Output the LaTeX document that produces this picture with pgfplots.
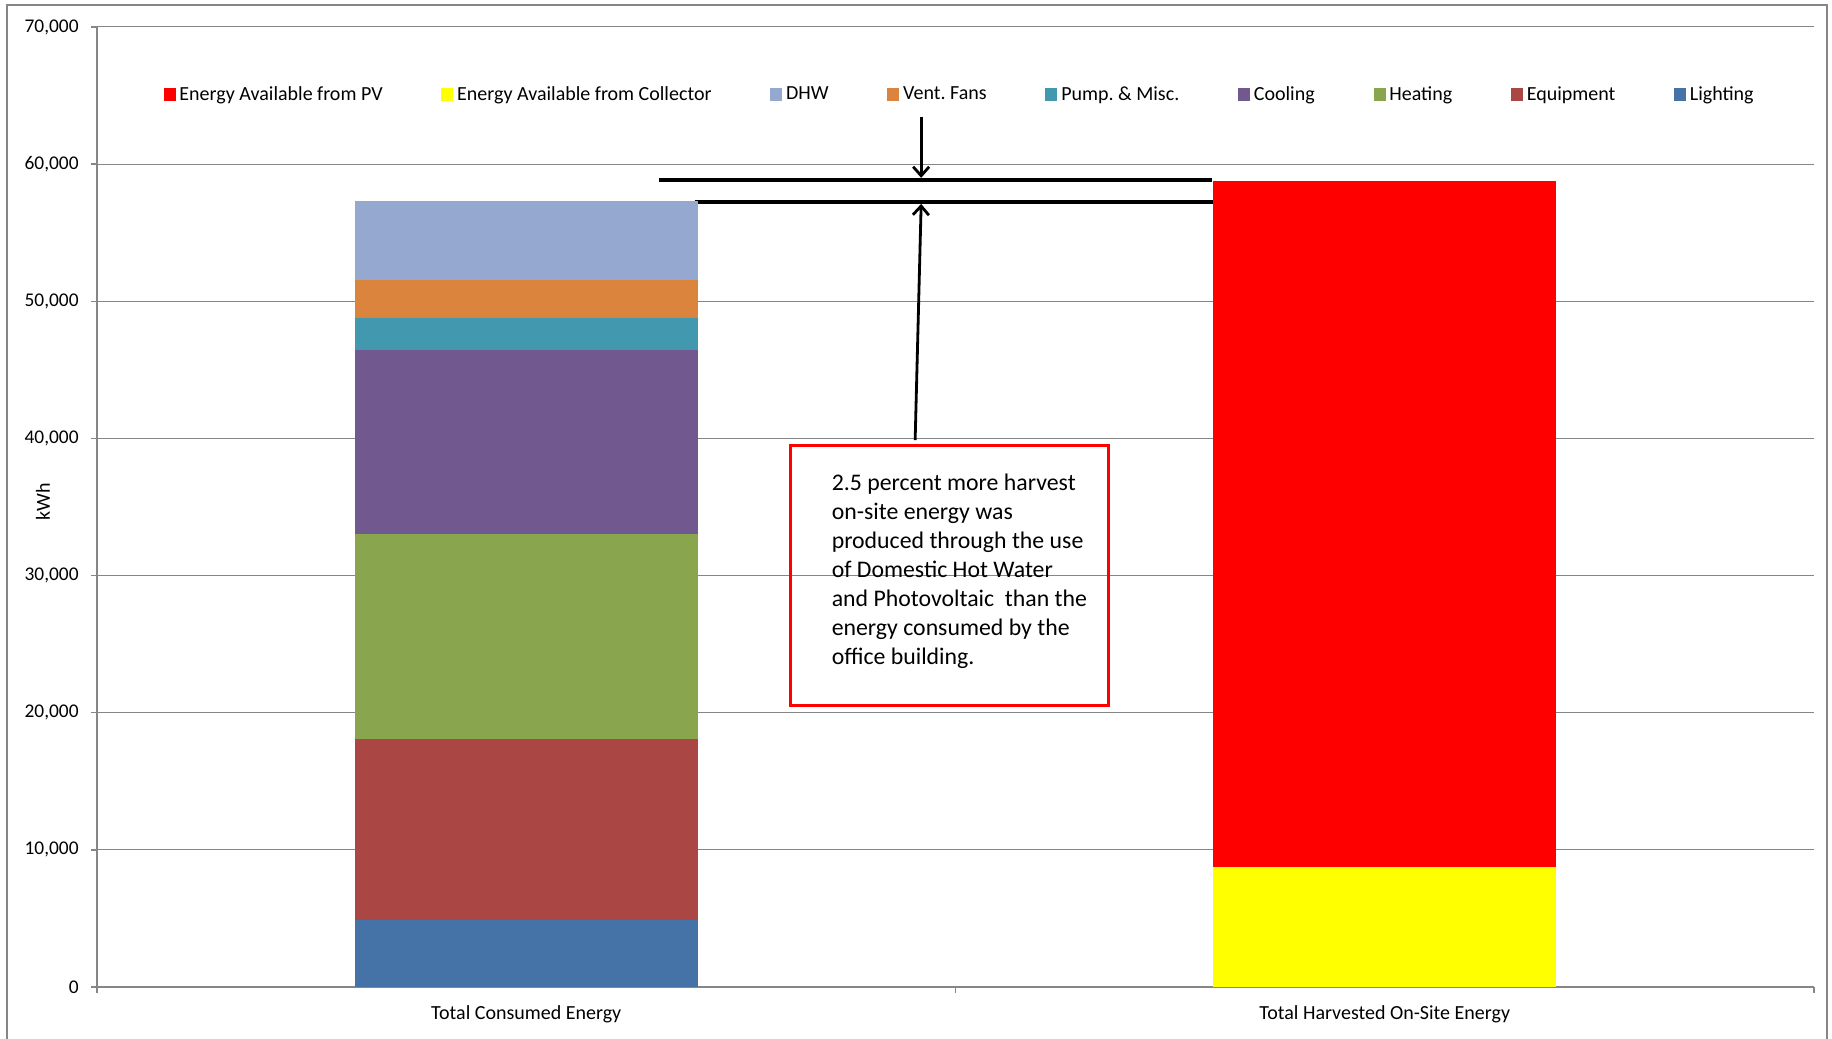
\documentclass[border=0pt]{standalone}
\usepackage{pgfplots}
\pgfplotsset{compat=1.18}
\usepackage{fontspec}
\setmainfont{Carlito}
\usetikzlibrary{arrows.meta}

\definecolor{cPV}{HTML}{FF0000}
\definecolor{cColl}{HTML}{FFFF00}
\definecolor{cDHW}{HTML}{95A9D0}
\definecolor{cVent}{HTML}{DB843D}
\definecolor{cPump}{HTML}{4198AF}
\definecolor{cCool}{HTML}{71588F}
\definecolor{cHeat}{HTML}{89A54E}
\definecolor{cEquip}{HTML}{AA4643}
\definecolor{cLight}{HTML}{4572A7}
\definecolor{gridgray}{HTML}{868686}

\pgfplotsset{sq/.style={legend image code/.code={\fill[#1] (0bp,-2.9bp) rectangle (5.5bp,2.9bp);}}}
\frenchspacing

\begin{document}
\frenchspacing
\begin{tikzpicture}
\useasboundingbox (0,0) rectangle (916bp,519.5bp);
\fill[white] (0,0) rectangle (916bp,519.5bp);
\draw[gridgray, line width=1bp] (3.5bp,0) -- (3.5bp,517bp) -- (913.5bp,517bp) -- (913.5bp,0);
\begin{axis}[
  at={(48.5bp,26bp)}, anchor=south west,
  scale only axis, width=858.5bp, height=480bp,
  xmin=-0.5, xmax=1.5, ymin=0, ymax=70000,
  ybar stacked, bar width=0.4,
  axis x line*=bottom, axis y line*=left,
  axis line style={gridgray, line width=0.7bp},
  ytick={0,10000,20000,30000,40000,50000,60000,70000},
  scaled y ticks=false,
  /pgf/number format/assume math mode=true,
  /pgf/number format/1000 sep={,},
  ymajorgrids, grid style={gridgray, line width=0.5bp},
  tick style={gridgray, line width=0.7bp},
  major tick length=3bp, tick align=outside,
  xtick={-0.5,0.5,1.5}, xticklabels={},
  extra x ticks={0,1},
  extra x tick labels={Total Consumed Energy, Total Harvested On-Site Energy},
  extra x tick style={major tick length=0pt, tick style={draw=none}, grid=none},
  xticklabel style={font=\fontsize{10bp}{12bp}\selectfont, text=black, anchor=north, inner sep=0pt, yshift=-9.3bp},
  yticklabel style={font=\fontsize{9.7bp}{11bp}\selectfont, text=black, anchor=east, inner sep=0pt, xshift=-6bp},
  ylabel={kWh},
  ylabel style={font=\fontsize{10bp}{12bp}\selectfont, at={(axis description cs:-0.0315,0.505)}, anchor=center},
  legend columns=-1,
  legend style={draw=none, fill=none, at={(0.503,0.9295)}, anchor=center,
    font=\fontsize{10bp}{12bp}\selectfont,
    /tikz/every even column/.append style={column sep=27.4bp}},
]
\addplot[forget plot, fill=cLight, draw=none] coordinates {(0,4900) (1,0)};
\addplot[forget plot, fill=cEquip, draw=none] coordinates {(0,13150) (1,0)};
\addplot[forget plot, fill=cHeat, draw=none] coordinates {(0,14950) (1,0)};
\addplot[forget plot, fill=cCool, draw=none] coordinates {(0,13470) (1,0)};
\addplot[forget plot, fill=cPump, draw=none] coordinates {(0,2330) (1,0)};
\addplot[forget plot, fill=cVent, draw=none] coordinates {(0,2730) (1,0)};
\addplot[forget plot, fill=cDHW, draw=none] coordinates {(0,5780) (1,0)};
\addplot[forget plot, fill=cColl, draw=none] coordinates {(0,0) (1,8730)};
\addplot[forget plot, fill=cPV, draw=none] coordinates {(0,0) (1,50050)};

\addlegendimage{sq=cPV}\addlegendentry{Energy Available from PV}
\addlegendimage{sq=cColl}\addlegendentry{Energy Available from Collector}
\addlegendimage{sq=cDHW}\addlegendentry{DHW}
\addlegendimage{sq=cVent}\addlegendentry{Vent.\ Fans}
\addlegendimage{sq=cPump}\addlegendentry{Pump.\ \& Misc.}
\addlegendimage{sq=cCool}\addlegendentry{Cooling}
\addlegendimage{sq=cHeat}\addlegendentry{Heating}
\addlegendimage{sq=cEquip}\addlegendentry{Equipment}
\addlegendimage{sq=cLight}\addlegendentry{Lighting}

\draw[line width=1.7bp] (axis cs:0.155,58850) -- (axis cs:0.799,58850);
\draw[line width=1.7bp] (axis cs:0.196,57250) -- (axis cs:0.801,57250);
\draw[line width=1.4bp, -{Straight Barb[length=4.5bp,width=8bp]}] (axis cs:0.460,63440) -- (axis cs:0.460,59000);
\draw[line width=1.4bp, -{Straight Barb[length=4.5bp,width=8bp]}] (axis cs:0.453,39880) -- (axis cs:0.460,57100);
\draw[cPV, line width=1.5bp] (axis cs:0.3077,39520) rectangle (axis cs:0.6779,20490);
\node[anchor=north west, align=left, inner sep=0pt, text=black, font=\fontsize{11.9bp}{14.5bp}\selectfont] at (axis cs:0.3554,37406) {2.5 percent more harvest\\on-site energy was\\produced through the use\\of Domestic Hot Water\\and Photovoltaic\ \ than the\\energy consumed by the\\office building.};
\end{axis}
\end{tikzpicture}
\end{document}
